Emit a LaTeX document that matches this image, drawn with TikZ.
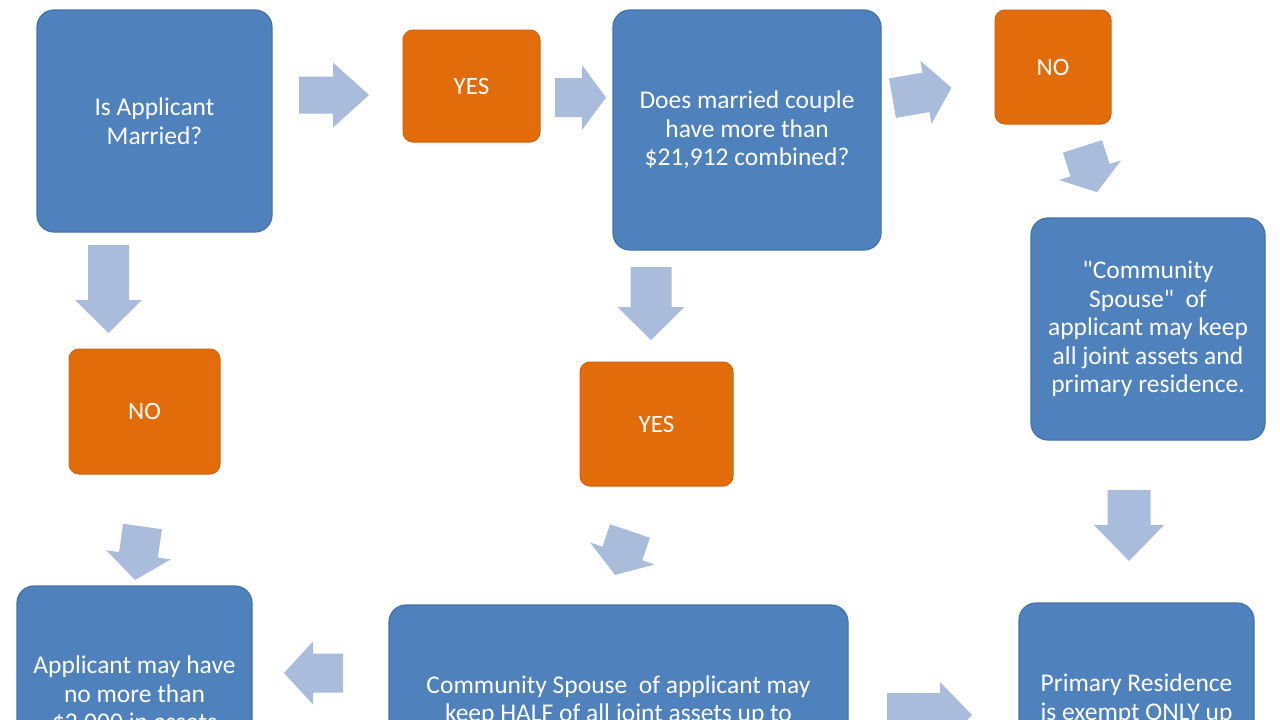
\documentclass[tikz,border=0pt]{standalone}
\usepackage{fontspec}
\setmainfont{Carlito}[Ligatures=TeXOff]
\definecolor{boxblue}{HTML}{4F81BD}
\definecolor{boxblueline}{HTML}{4472AC}
\definecolor{boxorange}{HTML}{E36C0A}
\definecolor{boxorangeline}{HTML}{D4620A}
\definecolor{arrowfill}{HTML}{AABCDB}
\tikzset{
  bluebox/.style={draw=boxblueline, line width=1.2pt, fill=boxblue, rounded corners=17pt,
    text=white, align=center, inner sep=0pt, font=\fontsize{25.5}{28.5}\selectfont},
  orangebox/.style={draw=boxorangeline, line width=1pt, fill=boxorange, rounded corners=10pt,
    text=white, align=center, inner sep=0pt, font=\fontsize{25}{28.5}\selectfont},
  blockarrow/.style={fill=arrowfill}
}
% center x, center y, page angle, half length, head start, shaft half width, head half width
\newcommand\blockarrow[7]{\fill[blockarrow,shift={(#1,#2)},rotate=#3]
  (-#4,-#6) -- (#5,-#6) -- (#5,-#7) -- (#4,0) -- (#5,#7) -- (#5,#6) -- (-#4,#6) -- cycle;}
\begin{document}
\begin{tikzpicture}[x=1pt,y=-1pt]
\useasboundingbox (0,0) rectangle (1280,720);
\clip (0,0) rectangle (1280,720);
\fill[white] (0,0) rectangle (1280,720);

\node[bluebox, minimum width=235pt, minimum height=222pt] (q1) at (154.5,121) {Is Applicant\\Married?};
\node[orangebox, minimum width=137pt, minimum height=112pt] (y1) at (471.5,86) {YES};
\node[bluebox, minimum width=268pt, minimum height=240pt] (q2) at (747,130) {Does married couple\\have more than\\\$21,912 combined?};
\node[orangebox, minimum width=116pt, minimum height=114pt] (n1) at (1053,67) {NO};
\node[bluebox, minimum width=234pt, minimum height=222pt] (r1) at (1148,329) {"Community\\Spouse"\ \ of\\applicant may keep\\all joint assets and\\primary residence.};
\node[orangebox, minimum width=151pt, minimum height=125pt] (n2) at (144.5,411.5) {NO};
\node[orangebox, minimum width=153pt, minimum height=124pt] (y2) at (656.5,424) {YES};
\node[bluebox, minimum width=235pt, minimum height=218pt] (b1) at (134.5,695) {Applicant may have\\no more than\\\$2,000 in assets};
\node[bluebox, minimum width=459pt, minimum height=192pt] (b2) at (618.5,701) {Community Spouse\ \ of applicant may\\keep HALF of all joint assets up to};
\node[bluebox, minimum width=235pt, minimum height=192pt] (b3) at (1136.5,699) {Primary Residence\\is exempt ONLY up};

\blockarrow{334}{95}{0}{35}{-1}{18.5}{32.5}
\blockarrow{580.5}{97.5}{0}{25.5}{1.5}{19.5}{32.5}
\blockarrow{922}{93}{10}{30}{4}{20}{32}
\blockarrow{1089.75}{169.25}{-72.3}{24}{1}{20.5}{32.5}
\blockarrow{108.5}{289}{-90}{44}{11}{20.5}{33.5}
\blockarrow{651}{303.5}{-90}{36.5}{3.5}{20.5}{33.5}
\blockarrow{622.5}{553}{-108.8}{23.25}{0.5}{21}{34}
\blockarrow{138.75}{553.25}{-98}{27}{1.6}{19.6}{32.6}
\blockarrow{1129}{525.5}{-90}{35.5}{-0.5}{21.5}{35}
\blockarrow{313.5}{673}{180}{29.5}{0.5}{19.5}{31.5}
\blockarrow{929.5}{715}{0}{42.5}{10.5}{22}{33}
\end{tikzpicture}
\end{document}
